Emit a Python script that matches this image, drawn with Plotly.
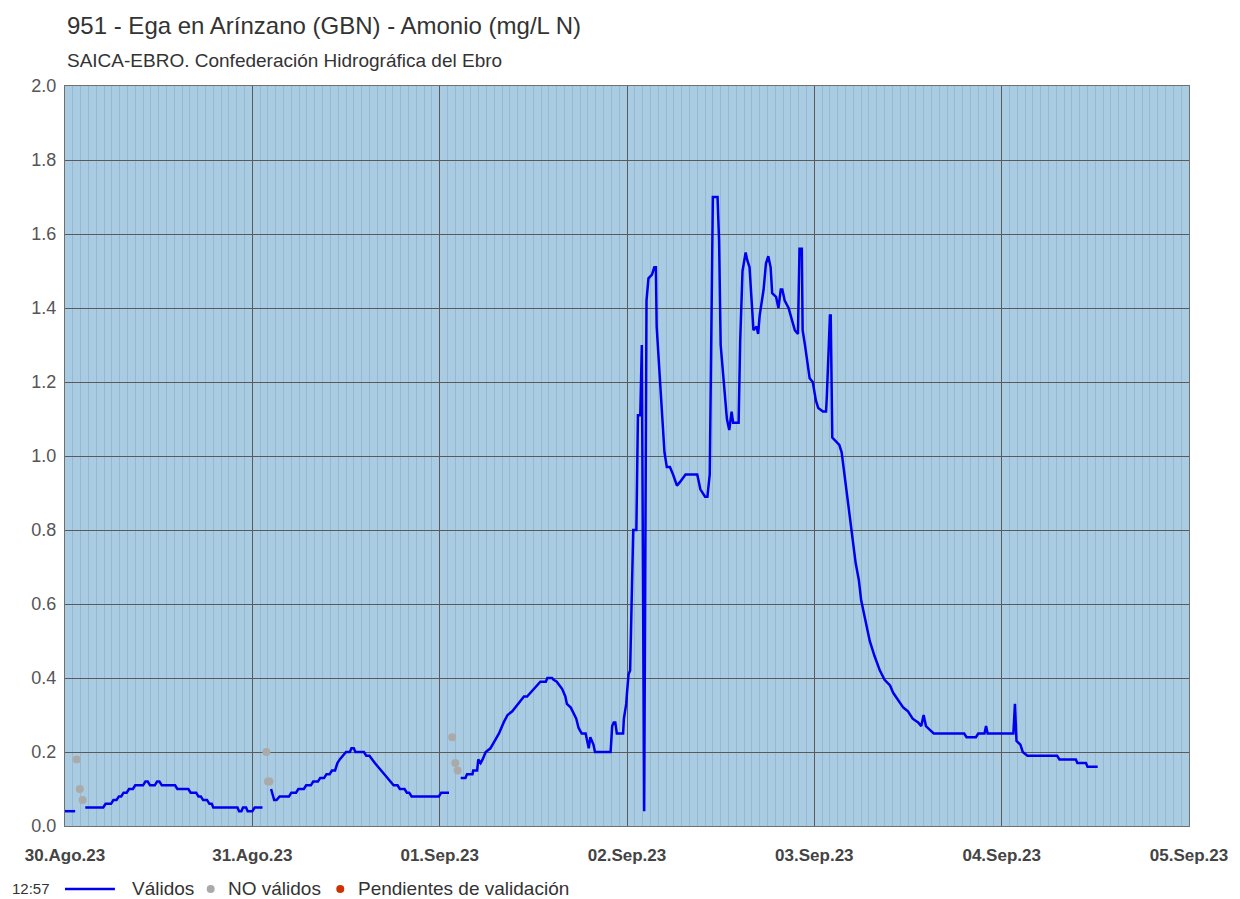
import plotly.graph_objects as go
import pandas as pd

# hours after 30.Ago.23 00:00 ; None = gap in the record
validos_h = [
    0, 1.3, None,
    2.6, 4.9, 5.2, 5.9, 6.2, 6.6, 6.9, 7.2, 7.5, 7.9, 8.2, 8.7, 9.0, 10.0, 10.3, 10.6, 10.9, 11.5,
    11.8, 12.1, 12.4, 14.1, 14.4, 15.8, 16.1, 16.8, 17.1, 17.4, 17.7, 18.2, 18.5, 18.8, 19.0, 22.1,
    22.3, 22.6, 22.8, 23.2, 23.4, 24.0, 24.3, 25.3, None,
    26.4, 26.8, 27.1, 27.5, 28.7, 29.0, 29.6, 29.9, 30.6, 30.9, 31.5, 31.8, 32.4, 32.7, 33.2, 33.5,
    33.9, 34.2, 34.6, 34.9, 35.2, 35.6, 36.0, 36.5, 36.7, 37.0, 37.2, 38.3, 38.6, 39.0, 39.3, 39.7,
    40.1, 40.5, 40.9, 41.3, 41.7, 42.1, 42.6, 42.9, 43.5, 43.8, 44.1, 44.4, 47.9, 48.2, 49.2, None,
    50.7, 51.3, 51.5, 52.2, 52.3, 52.8, 52.95, 53.25, 53.5, 53.9, 54.5, 55.0, 55.6, 56.2, 56.7, 57.3,
    57.7, 58.1, 58.4, 58.8, 59.2, 59.6, 60.1, 60.7, 60.9, 61.6, 61.8, 62.4, 62.6, 63.0, 63.3, 63.7,
    64.1, 64.3, 64.8, 65.2, 65.5, 65.8, 66.2, 66.7, 66.9, 67.1, 67.3, 67.5, 67.7, 67.9, 69.9, 70.1,
    70.3, 70.5, 70.7, 71.3, 71.5, 71.6, 71.9, 72.0, 72.2, 72.4, 72.6, 72.8, 73.2, 73.4, 73.7, 73.9,
    74.2, 74.5, 74.75, 75.2, 75.5, 75.7, 75.8, 76.2, 76.5, 76.8, 77.1, 77.5, 77.9, 78.4, 78.8, 79.5,
    81.0, 81.4, 82.0, 82.3, 82.6, 82.8, 83.0, 83.6, 83.8, 84.0, 84.4, 84.8, 85.1, 85.4, 85.6, 86.3,
    86.5, 86.8, 87.2, 87.4, 87.7, 87.9, 88.2, 88.6, 88.8, 89.0, 89.5, 89.8, 90.1, 90.4, 90.6, 91.1,
    91.4, 91.7, 91.9, 92.2, 92.7, 93.1, 93.5, 93.9, 94.1, 94.4, 94.5, 94.8, 95.1, 95.4, 95.8, 96.2,
    96.5, 97.1, 97.5, 97.6, 98.0, 98.1, 98.3, 98.8, 99.2, 99.5, 99.9, 100.3, 100.7, 101.3, 101.7, 102.0,
    102.5, 103.1, 103.7, 104.4, 105.0, 105.7, 106.1, 106.7, 107.4, 108.0, 108.6, 109.3, 109.7, 110.0,
    110.3, 110.8, 111.3, 115.2, 115.5, 116.7, 117.0, 117.8, 118.0, 118.2, 121.5, 121.7, 121.9, 122.4,
    122.7, 123.3, 127.1, 127.4, 129.5, 129.7, 130.8, 131.0, 132.3,
]
validos_v = [
    0.04, 0.04, None,
    0.05, 0.05, 0.06, 0.06, 0.07, 0.07, 0.08, 0.08, 0.09, 0.09, 0.10, 0.10, 0.11, 0.11, 0.12, 0.12, 0.11, 0.11,
    0.12, 0.12, 0.11, 0.11, 0.10, 0.10, 0.09, 0.09, 0.08, 0.08, 0.07, 0.07, 0.06, 0.06, 0.05, 0.05,
    0.04, 0.04, 0.05, 0.05, 0.04, 0.04, 0.05, 0.05, None,
    0.10, 0.07, 0.07, 0.08, 0.08, 0.09, 0.09, 0.10, 0.10, 0.11, 0.11, 0.12, 0.12, 0.13, 0.13, 0.14,
    0.14, 0.15, 0.15, 0.17, 0.18, 0.19, 0.20, 0.20, 0.21, 0.21, 0.20, 0.20, 0.19, 0.19, 0.18, 0.17,
    0.16, 0.15, 0.14, 0.13, 0.12, 0.11, 0.11, 0.10, 0.10, 0.09, 0.09, 0.08, 0.08, 0.09, 0.09, None,
    0.13, 0.13, 0.14, 0.14, 0.15, 0.15, 0.18, 0.17, 0.18, 0.20, 0.21, 0.23, 0.25, 0.28, 0.30, 0.31,
    0.32, 0.33, 0.34, 0.35, 0.35, 0.36, 0.37, 0.385, 0.39, 0.39, 0.40, 0.40, 0.395, 0.39, 0.38, 0.37,
    0.35, 0.33, 0.32, 0.305, 0.29, 0.265, 0.25, 0.25, 0.23, 0.21, 0.24, 0.23, 0.22, 0.20, 0.20, 0.27,
    0.28, 0.28, 0.25, 0.25, 0.25, 0.29, 0.33, 0.36, 0.41, 0.42, 0.59, 0.80, 0.80, 1.11, 1.11, 1.30,
    0.04, 1.42, 1.48, 1.49, 1.51, 1.51, 1.35, 1.20, 1.09, 1.01, 0.97, 0.97, 0.95, 0.92, 0.93, 0.95,
    0.95, 0.91, 0.89, 0.89, 0.95, 1.34, 1.70, 1.70, 1.58, 1.30, 1.19, 1.10, 1.07, 1.12, 1.09, 1.09,
    1.31, 1.50, 1.55, 1.53, 1.51, 1.43, 1.34, 1.35, 1.33, 1.38, 1.45, 1.52, 1.54, 1.51, 1.44, 1.43,
    1.40, 1.45, 1.45, 1.42, 1.40, 1.37, 1.34, 1.33, 1.56, 1.56, 1.34, 1.30, 1.25, 1.21, 1.20, 1.15,
    1.13, 1.12, 1.12, 1.16, 1.38, 1.38, 1.05, 1.04, 1.03, 1.01, 0.94, 0.88, 0.80, 0.71, 0.665, 0.61,
    0.56, 0.50, 0.46, 0.42, 0.395, 0.38, 0.36, 0.34, 0.32, 0.31, 0.29, 0.28, 0.27, 0.30,
    0.27, 0.26, 0.25, 0.25, 0.24, 0.24, 0.25, 0.25, 0.27, 0.25, 0.25, 0.33, 0.23, 0.22,
    0.20, 0.19, 0.19, 0.18, 0.18, 0.17, 0.17, 0.16, 0.16,
]

no_validos_h = [1.5, 1.9, 2.26, 25.8, 26.0, 26.2, 49.6, 50.0, 50.3]
no_validos_v = [0.18, 0.10, 0.07, 0.20, 0.12, 0.12, 0.24, 0.17, 0.15]

day_ticks = ["2023-08-30", "2023-08-31", "2023-09-01", "2023-09-02", "2023-09-03", "2023-09-04", "2023-09-05"]
day_labels = ["30.Ago.23", "31.Ago.23", "01.Sep.23", "02.Sep.23", "03.Sep.23", "04.Sep.23", "05.Sep.23"]
y_ticks = [0.0, 0.2, 0.4, 0.6, 0.8, 1.0, 1.2, 1.4, 1.6, 1.8, 2.0]

start = pd.Timestamp("2023-08-30 00:00")


def to_time(hours):
    return [None if h is None else start + pd.Timedelta(hours=h) for h in hours]


font_family = "Arial, Liberation Sans, sans-serif"
blue = "#0000EE"
grey = "#AAAAAA"
red = "#CC3300"

fig = go.Figure()

fig.add_trace(go.Scatter(
    x=to_time(validos_h), y=validos_v,
    mode="lines", name="Válidos",
    line=dict(color=blue, width=2.5),
    connectgaps=False, showlegend=False,
))
fig.add_trace(go.Scatter(
    x=to_time(no_validos_h), y=no_validos_v,
    mode="markers", name="NO válidos",
    marker=dict(color=grey, size=8),
    showlegend=False,
))

# hand-made legend below the plot (paper coords)
leg_y = -0.085
shapes = [
    dict(type="line", xref="paper", yref="paper", x0=0, x1=0.0444, y0=leg_y, y1=leg_y,
         line=dict(color=blue, width=2.5)),
]
for cx, col in [(0.1296, grey), (0.2449, red)]:
    shapes.append(dict(type="circle", xref="paper", yref="paper",
                       xsizemode="pixel", ysizemode="pixel", xanchor=cx, yanchor=leg_y,
                       x0=-4, x1=4, y0=-4, y1=4, fillcolor=col, line=dict(width=0)))

annotations = [
    dict(text="951 - Ega en Arínzano (GBN) - Amonio (mg/L N)", x=0, y=1.082, size=24),
    dict(text="SAICA-EBRO. Confederación Hidrográfica del Ebro", x=0, y=1.034, size=19),
    dict(text="12:57", x=-0.0488, y=leg_y, size=15),
    dict(text="Válidos", x=0.0577, y=leg_y, size=19),
    dict(text="NO válidos", x=0.1429, y=leg_y, size=19),
    dict(text="Pendientes de validación", x=0.2591, y=leg_y, size=19),
]
annotations = [
    dict(text=a["text"], xref="paper", yref="paper", x=a["x"], y=a["y"],
         xanchor="left", yanchor="middle", showarrow=False,
         font=dict(size=a["size"], color="#333333"))
    for a in annotations
]

# page body has an 8px margin, so the figure is a little smaller than the window
fig.update_layout(
    width=1232, height=891,
    margin=dict(l=57, r=45, t=78, b=73),
    paper_bgcolor="white",
    plot_bgcolor="#A9CCE3",
    font=dict(family=font_family, color="#444444"),
    showlegend=False,
    shapes=shapes,
    annotations=annotations,
)

fig.update_xaxes(
    type="date",
    range=[day_ticks[0], day_ticks[-1]],
    tickvals=day_ticks, ticktext=day_labels,
    tickfont=dict(size=17, color="#444444", weight="bold"),
    ticklabelstandoff=14,
    showgrid=True, gridcolor="#5A5A5A", gridwidth=1,
    minor=dict(dtick=3600000, showgrid=True, gridcolor="#98B8CF", gridwidth=1),
    showline=True, linecolor="#707070", linewidth=1, mirror=True,
    zeroline=False, ticks="",
)
fig.update_yaxes(
    range=[0, 2.0],
    tickvals=y_ticks, ticktext=[f"{v:.1f}" for v in y_ticks],
    tickfont=dict(size=18, color="#555555"),
    ticklabelstandoff=4,
    showgrid=True, gridcolor="#5A5A5A", gridwidth=1,
    showline=True, linecolor="#707070", linewidth=1, mirror=True,
    zeroline=False, ticks="",
)

fig.write_html("out.html")
